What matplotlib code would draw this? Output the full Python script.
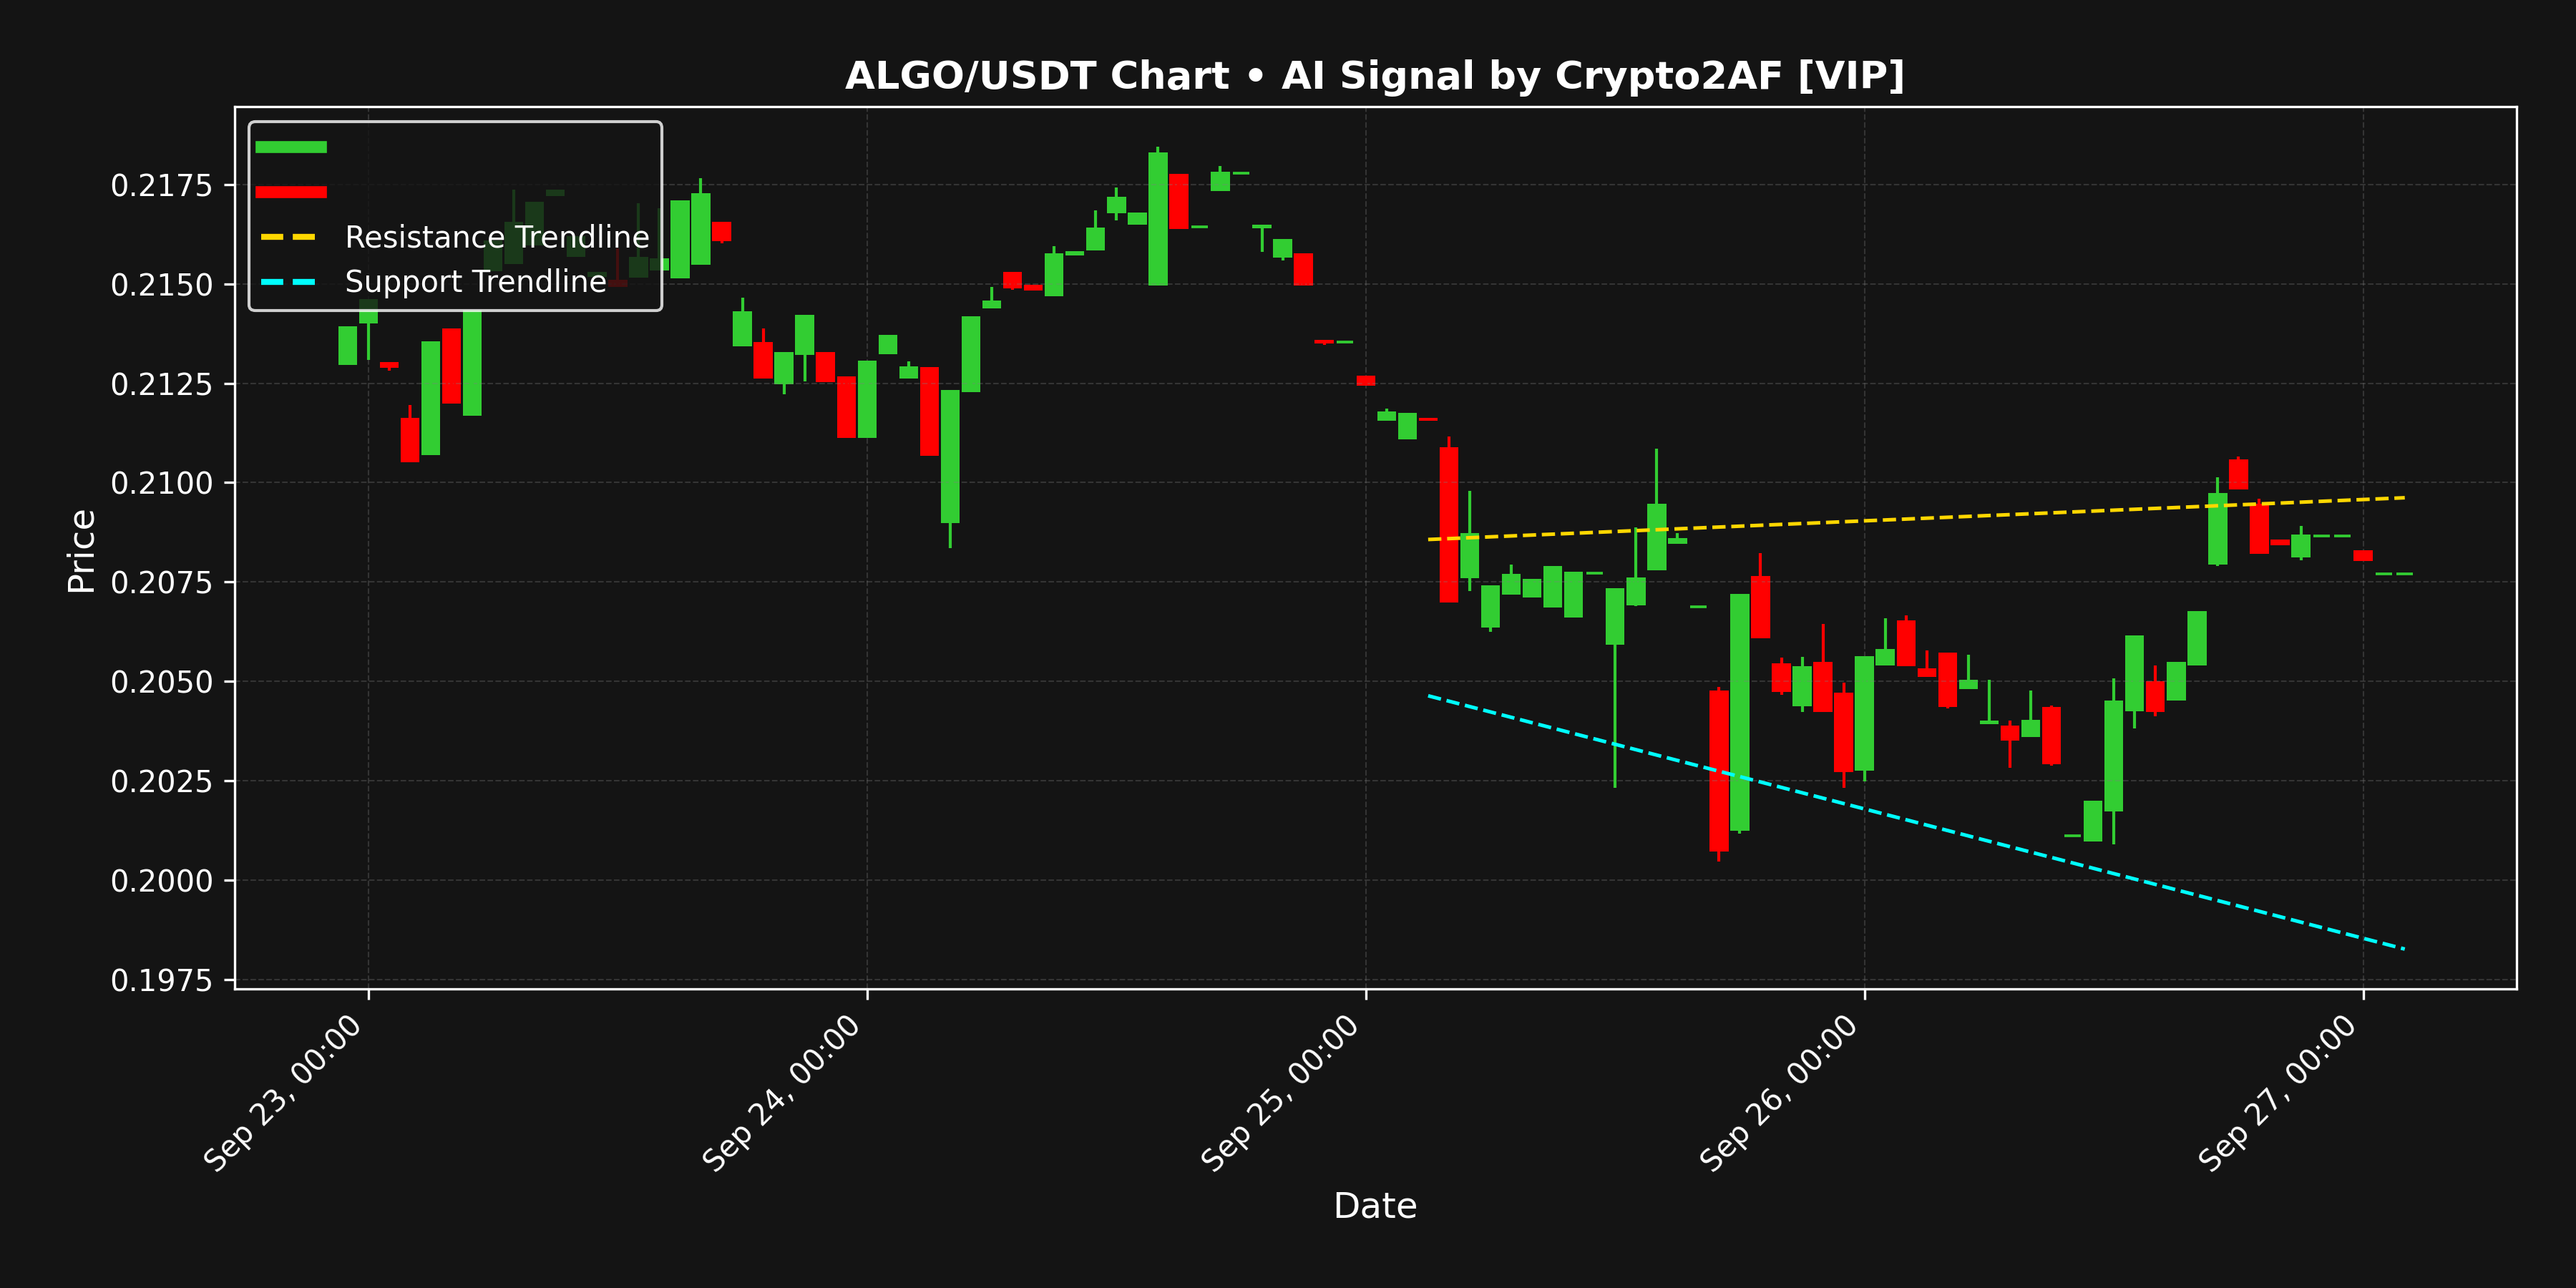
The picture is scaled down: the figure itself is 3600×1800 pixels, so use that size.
import matplotlib
matplotlib.use("Agg")
import matplotlib.pyplot as plt
import matplotlib.dates as mdates
from matplotlib.lines import Line2D
from matplotlib.ticker import MultipleLocator
import pandas as pd
import numpy as np

# hourly candles, Sep 22 23:00 -> Sep 27 02:00
times = pd.date_range("2025-09-22 23:00", periods=100, freq="h")

opens = [0.21296, 0.21400, 0.21303, 0.21163, 0.21069, 0.21388, 0.21169, 0.21532, 0.21550, 0.21597,
         0.21721, 0.21568, 0.21517, 0.21511, 0.21516, 0.21534, 0.21514, 0.21548, 0.21656, 0.21343,
         0.21353, 0.21248, 0.21322, 0.21328, 0.21267, 0.21113, 0.21323, 0.21262, 0.21290, 0.20898,
         0.21228, 0.21438, 0.21530, 0.21497, 0.21469, 0.21571, 0.21584, 0.21677, 0.21648, 0.21496,
         0.21776, 0.21644, 0.21733, 0.21778, 0.21639, 0.21566, 0.21577, 0.21359, 0.21354, 0.21269,
         0.21156, 0.21109, 0.21163, 0.21089, 0.20759, 0.20635, 0.20719, 0.20712, 0.20686, 0.20661,
         0.20773, 0.20592, 0.20692, 0.20779, 0.20847, 0.20687, 0.20478, 0.20125, 0.20765, 0.20546,
         0.20437, 0.20549, 0.20472, 0.20276, 0.20540, 0.20653, 0.20533, 0.20572, 0.20481, 0.20392,
         0.20389, 0.20360, 0.20436, 0.20112, 0.20098, 0.20174, 0.20425, 0.20501, 0.20452, 0.20540,
         0.20794, 0.21059, 0.20947, 0.20857, 0.20812, 0.20866, 0.20866, 0.20830, 0.20771, 0.20771]

highs = [0.21394, 0.21461, 0.21303, 0.21196, 0.21355, 0.21388, 0.21435, 0.21609, 0.21736, 0.21706,
         0.21736, 0.21619, 0.21530, 0.21590, 0.21702, 0.21690, 0.21710, 0.21765, 0.21656, 0.21465,
         0.21388, 0.21328, 0.21422, 0.21328, 0.21267, 0.21307, 0.21371, 0.21305, 0.21290, 0.21233,
         0.21418, 0.21492, 0.21530, 0.21497, 0.21594, 0.21582, 0.21684, 0.21742, 0.21679, 0.21844,
         0.21776, 0.21644, 0.21796, 0.21778, 0.21648, 0.21612, 0.21577, 0.21359, 0.21354, 0.21269,
         0.21186, 0.21175, 0.21163, 0.21116, 0.20980, 0.20742, 0.20794, 0.20758, 0.20790, 0.20776,
         0.20773, 0.20735, 0.20887, 0.21085, 0.20873, 0.20687, 0.20487, 0.20720, 0.20823, 0.20560,
         0.20562, 0.20645, 0.20497, 0.20564, 0.20659, 0.20666, 0.20578, 0.20572, 0.20568, 0.20504,
         0.20402, 0.20478, 0.20440, 0.20112, 0.20201, 0.20508, 0.20616, 0.20540, 0.20549, 0.20677,
         0.21014, 0.21065, 0.20960, 0.20857, 0.20892, 0.20866, 0.20866, 0.20830, 0.20771, 0.20771]

lows = [0.21296, 0.21309, 0.21282, 0.21052, 0.21069, 0.21199, 0.21169, 0.21532, 0.21550, 0.21597,
        0.21721, 0.21568, 0.21517, 0.21492, 0.21516, 0.21534, 0.21514, 0.21548, 0.21602, 0.21343,
        0.21262, 0.21222, 0.21254, 0.21253, 0.21113, 0.21113, 0.21323, 0.21262, 0.21068, 0.20835,
        0.21228, 0.21438, 0.21485, 0.21483, 0.21469, 0.21571, 0.21584, 0.21659, 0.21648, 0.21496,
        0.21638, 0.21644, 0.21733, 0.21778, 0.21580, 0.21559, 0.21496, 0.21347, 0.21354, 0.21244,
        0.21156, 0.21109, 0.21155, 0.20698, 0.20728, 0.20624, 0.20719, 0.20712, 0.20686, 0.20661,
        0.20773, 0.20233, 0.20690, 0.20779, 0.20847, 0.20687, 0.20047, 0.20118, 0.20609, 0.20466,
        0.20423, 0.20423, 0.20233, 0.20248, 0.20540, 0.20539, 0.20511, 0.20433, 0.20481, 0.20392,
        0.20283, 0.20360, 0.20288, 0.20112, 0.20098, 0.20090, 0.20381, 0.20412, 0.20452, 0.20540,
        0.20790, 0.20982, 0.20821, 0.20843, 0.20805, 0.20866, 0.20866, 0.20803, 0.20771, 0.20771]

closes = [0.21394, 0.21461, 0.21289, 0.21052, 0.21355, 0.21199, 0.21435, 0.21609, 0.21655, 0.21706,
          0.21736, 0.21619, 0.21530, 0.21492, 0.21568, 0.21564, 0.21710, 0.21728, 0.21607, 0.21431,
          0.21262, 0.21328, 0.21422, 0.21253, 0.21113, 0.21307, 0.21371, 0.21292, 0.21068, 0.21233,
          0.21418, 0.21458, 0.21489, 0.21483, 0.21577, 0.21582, 0.21641, 0.21719, 0.21679, 0.21830,
          0.21638, 0.21644, 0.21782, 0.21778, 0.21648, 0.21612, 0.21496, 0.21350, 0.21354, 0.21244,
          0.21179, 0.21175, 0.21155, 0.20698, 0.20873, 0.20742, 0.20771, 0.20758, 0.20790, 0.20776,
          0.20773, 0.20735, 0.20762, 0.20947, 0.20861, 0.20687, 0.20073, 0.20720, 0.20609, 0.20473,
          0.20539, 0.20423, 0.20272, 0.20564, 0.20582, 0.20539, 0.20511, 0.20436, 0.20504, 0.20402,
          0.20351, 0.20404, 0.20292, 0.20112, 0.20201, 0.20452, 0.20616, 0.20423, 0.20549, 0.20677,
          0.20974, 0.20982, 0.20821, 0.20843, 0.20870, 0.20866, 0.20866, 0.20803, 0.20771, 0.20771]

# trendlines (start / end points)
trend_times = pd.to_datetime(["2025-09-25 03:00", "2025-09-27 02:00"])
resistance = [0.20857, 0.20962]
support = [0.20464, 0.19827]

BG = "#141414"
UP = "#32CD32"
DOWN = "#FF0000"

fig, ax = plt.subplots(figsize=(12, 6), dpi=300)
fig.patch.set_facecolor(BG)
ax.set_facecolor(BG)

x = mdates.date2num(times)
o = np.array(opens)
h = np.array(highs)
l = np.array(lows)
c = np.array(closes)
colors = np.where(c >= o, UP, DOWN)

width = 0.038  # days
# wicks
ax.vlines(x, l, h, colors=colors, linewidth=1)
# bodies (dojis drawn as a flat line)
doji = np.abs(c - o) < 1e-6
body = ~doji
ax.bar(x[body], (c - o)[body], width=width, bottom=o[body], color=colors[body], linewidth=0)
ax.hlines(o[doji], x[doji] - 0.0165, x[doji] + 0.0165, colors=colors[doji], linewidth=0.9)

# trendlines
ax.plot(trend_times, resistance, color="#FFD700", linestyle="--", linewidth=1.2)
ax.plot(trend_times, support, color="#00FFFF", linestyle="--", linewidth=1.2)

ax.set_title("ALGO/USDT Chart • AI Signal by Crypto2AF [VIP]", color="white",
             fontsize=13, fontweight="bold")
ax.set_xlabel("Date", color="white", fontsize=12)
ax.set_ylabel("Price", color="white", fontsize=12)

ax.xaxis.set_major_locator(mdates.DayLocator())
ax.xaxis.set_major_formatter(mdates.DateFormatter("%b %d, %H:%M"))
ax.yaxis.set_major_locator(MultipleLocator(0.0025))
plt.setp(ax.get_xticklabels(), rotation=45, ha="right")
ax.tick_params(colors="white", labelsize=10)
for sp in ax.spines.values():
    sp.set_color("white")

ax.grid(True, color="gray", linestyle="--", linewidth=0.5, alpha=0.3)

handles = [Line2D([0], [0], color=UP, linewidth=4),
           Line2D([0], [0], color=DOWN, linewidth=4),
           Line2D([0], [0], color="#FFD700", linestyle="--", linewidth=2),
           Line2D([0], [0], color="#00FFFF", linestyle="--", linewidth=2)]
labels = ["", "", "Resistance Trendline", "Support Trendline"]
leg = ax.legend(handles, labels, loc="upper left", fontsize=10, facecolor=BG,
                edgecolor="white", framealpha=0.8, labelcolor="white")

fig.subplots_adjust(left=0.091, right=0.977, top=0.917, bottom=0.232)
fig.savefig("out.png", dpi=300, facecolor=BG)
